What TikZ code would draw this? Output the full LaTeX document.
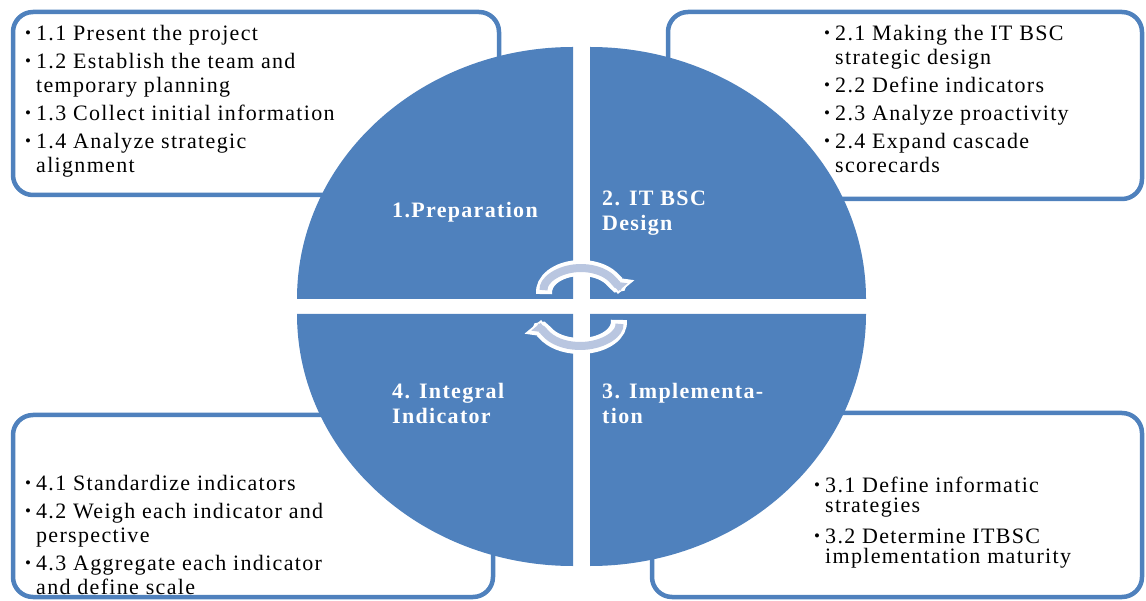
\documentclass[tikz,border=0pt]{standalone}
\usepackage{fontspec}
\setmainfont{Liberation Serif}
\newfontfamily\listfont[LetterSpace=6]{Liberation Serif}
\usetikzlibrary{arrows.meta,positioning}
\definecolor{cycblue}{HTML}{4F81BD}
\definecolor{cycpale}{HTML}{B9C6E0}
\newcommand{\firstline}{\rule{0pt}{18pt}}
\newcommand{\pbul}{\makebox[11pt][l]{\raisebox{1.5pt}{\fontsize{17}{17}\selectfont\textbullet}}}
\newcommand{\pind}{\hspace*{11pt}}
\tikzset{
  font=\listfont\fontsize{22}{24}\selectfont,
  frame/.style={
    draw=cycblue,
    line width=4.5pt,
    fill=white,
    rounded corners=20pt,
    anchor=north west,
    inner sep=0pt,
    outer sep=0pt
  },
  steps/.style={
    align=left,
    anchor=north west,
    inner sep=0pt
  },
  phase/.style={
    align=left,
    anchor=north west,
    inner sep=0pt,
    text=white,
    font=\listfont\bfseries\fontsize{22}{25}\selectfont
  },
  quarter/.style={fill=cycblue},
  cycout/.style={white, line width=16pt, -{Triangle[length=16pt, width=28pt]}},
  cycin/.style={cycpale, line width=8pt, shorten <=4pt, shorten >=3pt,
    -{Triangle[length=9pt, width=16pt]}}
}

\begin{document}
\begin{tikzpicture}[x=1pt, y=-1pt]
\useasboundingbox (0,0) rectangle (1146,601);

% Frames behind the wheel
\node[frame, minimum width=486pt, minimum height=183pt] (prep-box) at (13,12) {};
\node[frame, minimum width=474pt, minimum height=187pt] (design-box) at (668,12) {};
\node[frame, minimum width=480pt, minimum height=182pt] (integ-box) at (13,415) {};
\node[frame, minimum width=490pt, minimum height=184pt] (impl-box) at (652,413) {};

% Wheel quarters
\fill[quarter] (573,299) -- (297,299) arc[start angle=180, end angle=270, x radius=276, y radius=252] -- cycle;
\fill[quarter] (590,299) -- (590,47) arc[start angle=270, end angle=360, x radius=276, y radius=252] -- cycle;
\fill[quarter] (590,314) -- (866,314) arc[start angle=0, end angle=90, x radius=276, y radius=252] -- cycle;
\fill[quarter] (573,314) -- (573,566) arc[start angle=90, end angle=180, x radius=276, y radius=252] -- cycle;

% Phase names
\node[phase] (prep-label) at (392,199) {\firstline 1.Preparation};
\node[phase] (design-label) at (602,187) {\firstline 2. IT BSC\\Design};
\node[phase] (integ-label) at (392,380) {\firstline 4. Integral\\Indicator};
\node[phase] (impl-label) at (602,380) {\firstline 3. Implementa-\\tion};

% Turning arrows
\coordinate (turn-top) at (581,292);
\coordinate (turn-bot) at (580,322);
\draw[cycout] ([shift={(175:37 and 24)}]turn-top) arc[start angle=175, end angle=365, x radius=37, y radius=24];
\draw[cycin] ([shift={(175:37 and 24)}]turn-top) arc[start angle=175, end angle=365, x radius=37, y radius=24];
\draw[cycout] ([shift={(-5:39 and 24)}]turn-bot) arc[start angle=-5, end angle=185, x radius=39, y radius=24];
\draw[cycin] ([shift={(-5:39 and 24)}]turn-bot) arc[start angle=-5, end angle=185, x radius=39, y radius=24];

% Step lists
\node[steps] (prep-list) at (25,22) {\firstline\pbul 1.1 Present the project\\[4pt]
\pbul 1.2 Establish the team and\\
\pind temporary planning\\[4pt]
\pbul 1.3 Collect initial information\\[4pt]
\pbul 1.4 Analyze strategic\\
\pind alignment};

\node[steps] (design-list) at (824,22) {\firstline\pbul 2.1 Making the IT BSC\\
\pind strategic design\\[4pt]
\pbul 2.2 Define indicators\\[4pt]
\pbul 2.3 Analyze proactivity\\[4pt]
\pbul 2.4 Expand cascade\\
\pind scorecards};

\node[steps] (integ-list) at (25,472) {\firstline\pbul 4.1 Standardize indicators\\[4pt]
\pbul 4.2 Weigh each indicator and\\
\pind perspective\\[4pt]
\pbul 4.3 Aggregate each indicator\\
\pind and define scale};

\node[steps, font=\listfont\fontsize{22}{20}\selectfont] (impl-list) at (814,474) {\firstline\pbul 3.1 Define informatic\\
\pind strategies\\[11pt]
\pbul 3.2 Determine ITBSC\\
\pind implementation maturity};

\end{tikzpicture}
\end{document}
